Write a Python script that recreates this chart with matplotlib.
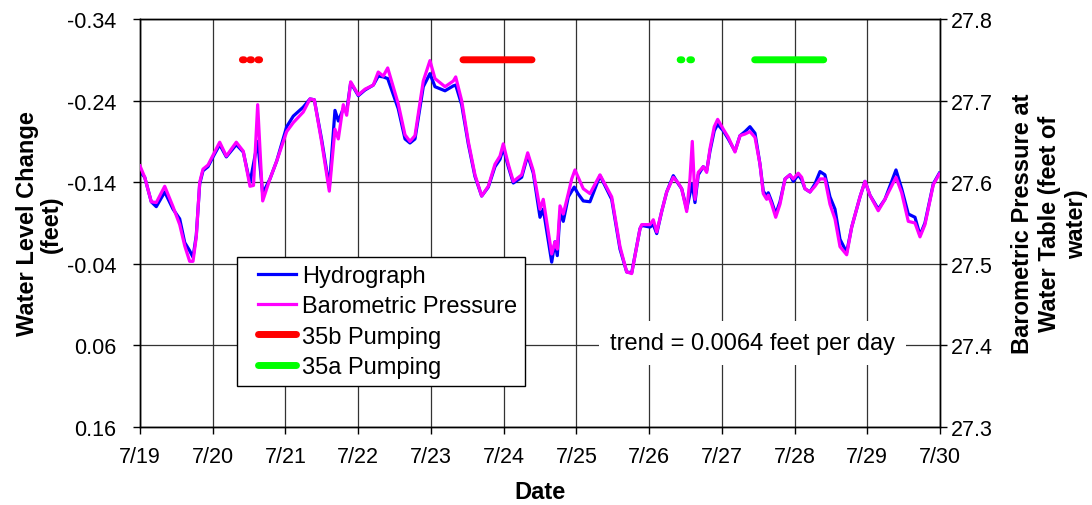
import matplotlib.pyplot as plt
from matplotlib.legend_handler import HandlerLine2D
from matplotlib.lines import Line2D

plt.rcParams["font.family"] = ["Liberation Sans", "DejaVu Sans"]

# Time in days since 7/19 00:00
hydro_days = [
    0.000, 0.065, 0.155, 0.224, 0.340, 0.454, 0.546, 0.615, 0.683, 0.729,
    0.774, 0.821, 0.866, 0.935, 1.004, 1.096, 1.187, 1.324, 1.420, 1.512,
    1.618, 1.687, 1.787, 1.880, 2.017, 2.108, 2.245, 2.337, 2.397, 2.498,
    2.603, 2.681, 2.727, 2.795, 2.842, 2.897, 3.002, 3.094, 3.208, 3.276,
    3.345, 3.406, 3.551, 3.644, 3.712, 3.781, 3.895, 3.987, 4.056, 4.194,
    4.308, 4.341, 4.423, 4.514, 4.606, 4.698, 4.789, 4.881, 4.950, 4.995,
    5.064, 5.133, 5.248, 5.331, 5.408, 5.500, 5.545, 5.661, 5.706, 5.738,
    5.775, 5.820, 5.889, 5.971, 6.022, 6.095, 6.187, 6.325, 6.486, 6.600,
    6.692, 6.761, 6.875, 6.899, 7.013, 7.058, 7.105, 7.173, 7.242, 7.333,
    7.402, 7.448, 7.517, 7.562, 7.594, 7.631, 7.676, 7.745, 7.792, 7.837,
    7.896, 7.943, 8.020, 8.089, 8.181, 8.250, 8.319, 8.387, 8.456, 8.525,
    8.570, 8.617, 8.639, 8.686, 8.741, 8.800, 8.869, 8.937, 8.983, 9.051,
    9.098, 9.143, 9.212, 9.281, 9.350, 9.418, 9.487, 9.556, 9.625, 9.717,
    9.786, 9.900, 9.969, 10.037, 10.151, 10.243, 10.395, 10.473, 10.564, 10.656,
    10.725, 10.793, 10.908, 10.990,
]
# Water level change (feet, negative = rise)
hydro_level = [
    -0.153, -0.146, -0.116, -0.110, -0.128, -0.107, -0.095, -0.066, -0.056, -0.048,
    -0.075, -0.138, -0.154, -0.159, -0.171, -0.186, -0.171, -0.186, -0.177, -0.139,
    -0.190, -0.126, -0.144, -0.166, -0.208, -0.221, -0.232, -0.242, -0.241, -0.192,
    -0.134, -0.228, -0.215, -0.230, -0.227, -0.262, -0.246, -0.253, -0.259, -0.270,
    -0.269, -0.267, -0.230, -0.193, -0.188, -0.193, -0.257, -0.273, -0.257, -0.252,
    -0.258, -0.259, -0.235, -0.187, -0.147, -0.123, -0.134, -0.159, -0.168, -0.182,
    -0.159, -0.139, -0.146, -0.173, -0.151, -0.097, -0.107, -0.042, -0.067, -0.050,
    -0.103, -0.092, -0.122, -0.134, -0.126, -0.117, -0.116, -0.148, -0.119, -0.058,
    -0.030, -0.029, -0.083, -0.087, -0.085, -0.088, -0.077, -0.104, -0.128, -0.148,
    -0.138, -0.132, -0.107, -0.126, -0.138, -0.115, -0.149, -0.159, -0.154, -0.178,
    -0.203, -0.211, -0.203, -0.193, -0.178, -0.197, -0.202, -0.208, -0.200, -0.162,
    -0.129, -0.123, -0.127, -0.116, -0.101, -0.116, -0.144, -0.149, -0.141, -0.149,
    -0.143, -0.132, -0.128, -0.138, -0.153, -0.149, -0.122, -0.107, -0.070, -0.054,
    -0.085, -0.122, -0.141, -0.124, -0.107, -0.119, -0.155, -0.132, -0.101, -0.097,
    -0.075, -0.090, -0.138, -0.151,
]

baro_days = [
    0.000, 0.065, 0.155, 0.224, 0.340, 0.454, 0.546, 0.615, 0.683, 0.729,
    0.774, 0.821, 0.866, 0.935, 1.004, 1.096, 1.187, 1.324, 1.420, 1.512,
    1.561, 1.618, 1.687, 1.787, 1.880, 2.017, 2.108, 2.245, 2.337, 2.397,
    2.498, 2.603, 2.681, 2.727, 2.795, 2.842, 2.897, 3.002, 3.094, 3.208,
    3.276, 3.345, 3.406, 3.551, 3.644, 3.712, 3.781, 3.895, 3.987, 4.056,
    4.194, 4.308, 4.341, 4.423, 4.514, 4.606, 4.698, 4.789, 4.881, 4.950,
    4.995, 5.064, 5.133, 5.248, 5.331, 5.408, 5.500, 5.545, 5.661, 5.706,
    5.738, 5.775, 5.820, 5.889, 5.936, 5.981, 6.095, 6.187, 6.325, 6.486,
    6.600, 6.692, 6.761, 6.875, 6.899, 7.013, 7.058, 7.105, 7.173, 7.242,
    7.333, 7.402, 7.448, 7.517, 7.562, 7.594, 7.631, 7.676, 7.745, 7.792,
    7.837, 7.896, 7.943, 8.020, 8.089, 8.181, 8.250, 8.319, 8.387, 8.456,
    8.525, 8.570, 8.617, 8.639, 8.686, 8.741, 8.800, 8.869, 8.937, 8.983,
    9.051, 9.098, 9.143, 9.212, 9.281, 9.350, 9.418, 9.487, 9.556, 9.625,
    9.717, 9.786, 9.900, 9.969, 10.037, 10.151, 10.243, 10.395, 10.473, 10.564,
    10.656, 10.725, 10.793, 10.908, 10.990,
]
# Barometric pressure at the water table (feet of water)
baro_pressure = [
    27.620, 27.606, 27.576, 27.575, 27.595, 27.570, 27.548, 27.522, 27.503, 27.503,
    27.533, 27.600, 27.616, 27.621, 27.633, 27.649, 27.632, 27.649, 27.638, 27.595,
    27.596, 27.695, 27.577, 27.604, 27.626, 27.662, 27.673, 27.686, 27.702, 27.701,
    27.649, 27.589, 27.665, 27.653, 27.695, 27.682, 27.723, 27.707, 27.714, 27.719,
    27.735, 27.730, 27.740, 27.696, 27.658, 27.650, 27.657, 27.724, 27.749, 27.727,
    27.717, 27.724, 27.729, 27.700, 27.650, 27.609, 27.583, 27.595, 27.622, 27.632,
    27.647, 27.622, 27.601, 27.609, 27.636, 27.614, 27.567, 27.579, 27.512, 27.527,
    27.518, 27.571, 27.561, 27.586, 27.604, 27.615, 27.592, 27.586, 27.609, 27.582,
    27.521, 27.490, 27.488, 27.543, 27.548, 27.548, 27.554, 27.539, 27.564, 27.588,
    27.606, 27.599, 27.592, 27.564, 27.604, 27.650, 27.579, 27.612, 27.619, 27.612,
    27.641, 27.668, 27.677, 27.665, 27.655, 27.637, 27.657, 27.659, 27.662, 27.655,
    27.622, 27.586, 27.579, 27.584, 27.573, 27.557, 27.573, 27.604, 27.609, 27.604,
    27.611, 27.606, 27.592, 27.588, 27.595, 27.604, 27.604, 27.573, 27.555, 27.521,
    27.511, 27.545, 27.582, 27.601, 27.584, 27.565, 27.579, 27.606, 27.587, 27.552,
    27.550, 27.533, 27.548, 27.597, 27.610,
]

# Pumping periods (start, end in days since 7/19), shown as bars near the top
pump_35b = [(1.408, 1.432), (1.510, 1.534), (1.621, 1.645), (4.441, 5.390)]
pump_35a = [(7.427, 7.451), (7.560, 7.584), (8.452, 9.401)]
pump_bar_level = -0.29

date_labels = ["7/19", "7/20", "7/21", "7/22", "7/23", "7/24",
               "7/25", "7/26", "7/27", "7/28", "7/29", "7/30"]
level_ticks = [-0.34, -0.24, -0.14, -0.04, 0.06, 0.16]
pressure_ticks = [27.3, 27.4, 27.5, 27.6, 27.7, 27.8]

fig = plt.figure(figsize=(10.92, 5.06), dpi=100)
ax = fig.add_axes([0.1282, 0.1542, 0.7326, 0.8063])
ax2 = ax.twinx()

(hydro_line,) = ax.plot(hydro_days, hydro_level, color="#0000ff", lw=2.3,
                        label="Hydrograph", zorder=3)
(baro_line,) = ax2.plot(baro_days, baro_pressure, color="#ff00ff", lw=2.3,
                        label="Barometric Pressure", zorder=3)

# the bars sit on the left (water level) scale; 27.46 ties the two scales
bar_pressure = 27.46 - pump_bar_level
for start, end in pump_35b:
    (red_line,) = ax2.plot([start, end], [bar_pressure] * 2, color="#ff0000",
                           lw=5, solid_capstyle="round", snap=False,
                           label="35b Pumping")
for start, end in pump_35a:
    (green_line,) = ax2.plot([start, end], [bar_pressure] * 2, color="#00ff00",
                             lw=5, solid_capstyle="round", snap=False,
                             label="35a Pumping")

ax.set_xlim(0, 11)
ax.set_xticks(range(len(date_labels)))
ax.set_xticklabels(date_labels)
ax.set_ylim(0.16, -0.34)
ax.set_yticks(level_ticks)
ax.set_yticklabels([f"{v:.2f}" for v in level_ticks])
ax2.set_ylim(27.3, 27.8)
ax2.set_yticks(pressure_ticks)
ax2.set_yticklabels([f"{v:.1f}" for v in pressure_ticks])

ax.grid(True, color="#333333", lw=0.9)
ax.set_axisbelow(True)
for a in (ax, ax2):
    a.tick_params(labelsize=15.5, length=5, width=1, color="black")
    for spine in a.spines.values():
        spine.set_color("black")
        spine.set_linewidth(1)
ax.tick_params(axis="x", pad=9)
ax.tick_params(axis="y", pad=12)
ax2.tick_params(axis="y", pad=3)

ax.set_xlabel("Date", fontsize=17, fontweight="bold", labelpad=9)
ax.set_ylabel("Water Level Change\n(feet)", fontsize=17, fontweight="bold",
              labelpad=3, linespacing=1.05)
ax2.set_ylabel("Barometric Pressure at\nWater Table (feet of\nwater)",
               fontsize=17, fontweight="bold", labelpad=13, linespacing=1.23)

leg = ax2.legend(
    handles=[hydro_line, baro_line, red_line, green_line],
    handler_map={Line2D: HandlerLine2D(xpad=0.55)},
    loc="lower left", bbox_to_anchor=(0.121, 0.1), borderaxespad=0,
    fontsize=17, frameon=True, fancybox=False, framealpha=1,
    edgecolor="black", handlelength=2.15, handletextpad=0.25,
    labelspacing=0.35, borderpad=0.35,
)
leg.get_frame().set_linewidth(1)
leg.set_zorder(10)

ax2.text(0.766, 0.205, "trend = 0.0064 feet per day", transform=ax2.transAxes,
         ha="center", va="center", fontsize=17, zorder=5,
         bbox=dict(facecolor="white", edgecolor="none", pad=8))

fig.savefig("out.png", dpi=100)
